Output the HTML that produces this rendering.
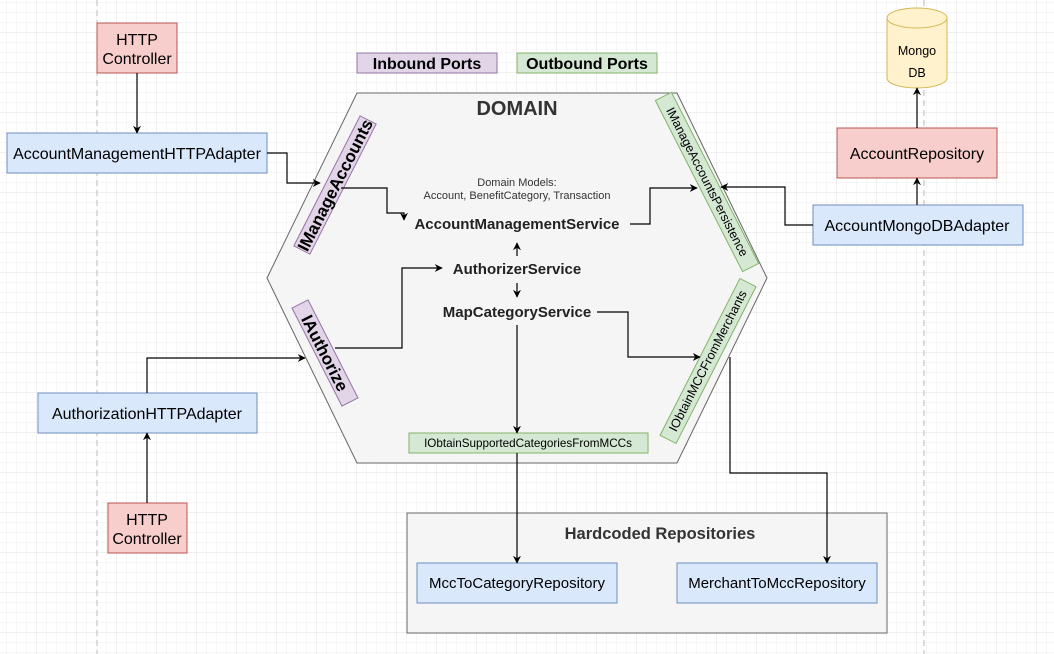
<!DOCTYPE html>
<html><head><meta charset="utf-8"><style>
html,body{margin:0;padding:0;background:#fff}
svg{display:block}
text{font-family:"Liberation Sans",Arial,sans-serif}
</style></head><body>
<svg width="1054" height="654" viewBox="0 0 1054 654" xmlns="http://www.w3.org/2000/svg">
<defs>
<pattern id="g" width="10" height="10" patternUnits="userSpaceOnUse"><path d="M10 0V10H0" fill="none" stroke="#ececec" stroke-width="1"/></pattern>
<pattern id="G" width="40" height="40" patternUnits="userSpaceOnUse" x="-3" y="-7"><rect width="40" height="40" fill="url(#g)"/><path d="M40 0V40H0" fill="none" stroke="#e0e0e0" stroke-width="1"/></pattern>
<marker id="a" viewBox="0 0 10 10" refX="9" refY="5" markerWidth="8" markerHeight="8" orient="auto-start-reverse" markerUnits="userSpaceOnUse"><path d="M0 0L10 5L0 10L3 5Z" fill="#000"/></marker>
</defs>
<rect width="1054" height="654" fill="url(#G)"/>
<line x1="97" y1="0" x2="97" y2="654" stroke="#bbb" stroke-dasharray="6 4"/>
<line x1="924" y1="0" x2="924" y2="654" stroke="#bbb" stroke-dasharray="6 4"/>

<polygon points="357,93 677,93 767,278 677,463 357,463 267,278" fill="#f5f5f5" stroke="#666" stroke-width="1"/>
<text x="517" y="115" font-size="20" font-weight="bold" text-anchor="middle" fill="#333">DOMAIN</text>
<text x="517" y="186" font-size="11" text-anchor="middle" fill="#333">Domain Models:</text>
<text x="517" y="199" font-size="11" text-anchor="middle" fill="#333">Account, BenefitCategory, Transaction</text>
<text x="517" y="229" font-size="15" font-weight="bold" text-anchor="middle" fill="#222">AccountManagementService</text>
<text x="517" y="274" font-size="15" font-weight="bold" text-anchor="middle" fill="#222">AuthorizerService</text>
<text x="517" y="317" font-size="15" font-weight="bold" text-anchor="middle" fill="#222">MapCategoryService</text>

<g transform="translate(335,185) rotate(-63)"><rect x="-73" y="-9" width="146" height="18" fill="#e1d5e7" stroke="#9673a6"/><text y="6" font-size="17" font-weight="bold" text-anchor="middle">IManageAccounts</text></g>
<g transform="translate(325,353) rotate(63)"><rect x="-55" y="-9" width="110" height="18" fill="#e1d5e7" stroke="#9673a6"/><text y="6" font-size="17" font-weight="bold" text-anchor="middle">IAuthorize</text></g>
<g transform="translate(707,182) rotate(63)"><rect x="-96" y="-9" width="192" height="18" fill="#d5e8d4" stroke="#82b366"/><text y="4" font-size="12.5" text-anchor="middle">IManageAccountsPersistence</text></g>
<g transform="translate(708,361) rotate(-63)"><rect x="-88" y="-9" width="176" height="18" fill="#d5e8d4" stroke="#82b366"/><text y="4" font-size="12.5" text-anchor="middle">IObtainMCCFromMerchants</text></g>
<rect x="409" y="433" width="239" height="20" fill="#d5e8d4" stroke="#82b366"/>
<text x="528" y="447" font-size="11.7" text-anchor="middle">IObtainSupportedCategoriesFromMCCs</text>

<rect x="357" y="53" width="140" height="20" fill="#e1d5e7" stroke="#9673a6"/>
<text x="427" y="69" font-size="16" font-weight="bold" text-anchor="middle">Inbound Ports</text>
<rect x="517" y="53" width="140" height="20" fill="#d5e8d4" stroke="#82b366"/>
<text x="587" y="69" font-size="16" font-weight="bold" text-anchor="middle">Outbound Ports</text>

<rect x="97" y="23" width="80" height="50" fill="#f8cecc" stroke="#b85450"/>
<text x="137" y="45" font-size="16" text-anchor="middle">HTTP</text>
<text x="137" y="64" font-size="16" text-anchor="middle">Controller</text>
<rect x="7" y="133" width="260" height="40" fill="#dae8fc" stroke="#6c8ebf"/>
<text x="137" y="159" font-size="16" text-anchor="middle">AccountManagementHTTPAdapter</text>
<rect x="38" y="393" width="219" height="40" fill="#dae8fc" stroke="#6c8ebf"/>
<text x="147" y="419" font-size="16" text-anchor="middle">AuthorizationHTTPAdapter</text>
<rect x="108" y="503" width="79" height="50" fill="#f8cecc" stroke="#b85450"/>
<text x="147" y="525" font-size="16" text-anchor="middle">HTTP</text>
<text x="147" y="544" font-size="16" text-anchor="middle">Controller</text>

<path d="M887 18 A30 10 0 0 1 947 18 V78 A30 10 0 0 1 887 78 Z" fill="#fff2cc" stroke="#d6b656"/>
<path d="M887 18 A30 10 0 0 0 947 18" fill="none" stroke="#d6b656"/>
<text x="917" y="55" font-size="12.5" text-anchor="middle">Mongo</text>
<text x="917" y="77" font-size="12.5" text-anchor="middle">DB</text>
<rect x="837" y="128" width="160" height="50" fill="#f8cecc" stroke="#b85450"/>
<text x="917" y="159" font-size="16" text-anchor="middle">AccountRepository</text>
<rect x="813" y="205" width="210" height="40" fill="#dae8fc" stroke="#6c8ebf"/>
<text x="917" y="231" font-size="16" text-anchor="middle">AccountMongoDBAdapter</text>

<rect x="407" y="513" width="480" height="120" fill="#f5f5f5" stroke="#666"/>
<text x="660" y="539" font-size="16.5" font-weight="bold" text-anchor="middle" fill="#333">Hardcoded Repositories</text>
<rect x="417" y="563" width="200" height="40" fill="#dae8fc" stroke="#6c8ebf"/>
<text x="517" y="588" font-size="15" text-anchor="middle">MccToCategoryRepository</text>
<rect x="677" y="563" width="200" height="40" fill="#dae8fc" stroke="#6c8ebf"/>
<text x="777" y="588" font-size="15" text-anchor="middle">MerchantToMccRepository</text>

<g fill="none" stroke="#000" stroke-width="1.2" marker-end="url(#a)">
<path d="M137 73V133"/>
<path d="M267 153H287V183H320"/>
<path d="M341 188H387V213H404V220"/>
<path d="M630 224H650V188H697"/>
<path d="M813 225H785V187H721"/>
<path d="M517 256V243"/>
<path d="M517 283V297"/>
<path d="M335 348H402V268H442"/>
<path d="M147 393V358H305"/>
<path d="M147 503V433"/>
<path d="M597 312H628V357H700"/>
<path d="M517 325V433"/>
<path d="M517 453V563"/>
<path d="M730 357V473H827V563"/>
<path d="M917 128V88"/>
<path d="M917 205V178"/>
</g>
</svg>
</body></html>
